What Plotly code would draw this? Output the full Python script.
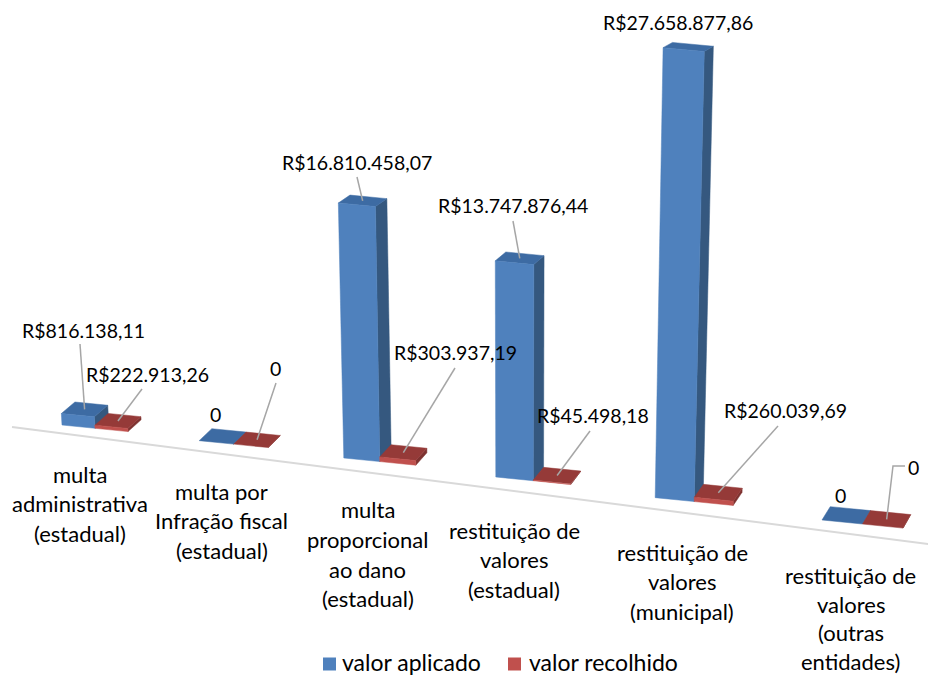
import plotly.graph_objects as go

# ---------------- data ----------------
categories = [
    ["multa", "administrativa", "(estadual)"],
    ["multa por", "Infração fiscal", "(estadual)"],
    ["multa", "proporcional", "ao dano", "(estadual)"],
    ["restituição de", "valores", "(estadual)"],
    ["restituição de", "valores", "(municipal)"],
    ["restituição de", "valores", "(outras", "entidades)"],
]
valor_aplicado = [816138.11, 0, 16810458.07, 13747876.44, 27658877.86, 0]
valor_recolhido = [222913.26, 0, 303937.19, 45498.18, 260039.69, 0]
series_names = ["valor aplicado", "valor recolhido"]

# ---------------- styles ----------------
FONT = "Lato"
COLORS = {
    0: dict(front="#4F81BD", top="#3D6BA3", side="#35587F"),
    1: dict(front="#C0504D", top="#953A38", side="#7E3230"),
}
SCREEN_W, SCREEN_H = 936, 677
BODY = 8  # default page margin of the html body
LABEL_NUDGE = [-3, 0, 0, -7, 0, 0]


def brl(v):
    if v == 0:
        return "0"
    s = f"{v:,.2f}".replace(",", "#").replace(".", ",").replace("#", ".")
    return "R$" + s


# ---------------- pseudo-3D projection (layout geometry) ----------------
def cat_base(i):
    x = 62 + 133.5 * i + 3.7 * i * i
    y = 425 + 14.83 * i + 0.833 * i * i
    w = 33 + 1.5 * i
    k = (14.07 + 0.55 * i) / 1e6  # px per unit value
    return x, y, w, k


def proj(i, s, u, h, d):
    x0, y0, w, k = cat_base(i)
    off = (s + u) * w
    bx = x0 + off
    by = y0 + 0.1 * off
    x = bx + (bx - 515) * h / 8000
    y = by - h
    if d:
        x += d * (14 - 0.007 * x)
        y += d * (-13 * (y + 255) / 755)
    return x, y


fig = go.Figure()


def poly(pts, color):
    xs = [p[0] for p in pts] + [pts[0][0]]
    ys = [p[1] for p in pts] + [pts[0][1]]
    fig.add_trace(go.Scatter(
        x=xs, y=ys, mode="lines", fill="toself", fillcolor=color,
        line=dict(color=color, width=0.5), hoverinfo="skip", showlegend=False,
    ))


# floor line
fig.add_trace(go.Scatter(x=[12, 936], y=[427, 545], mode="lines",
                         line=dict(color="#D9D9D9", width=2),
                         hoverinfo="skip", showlegend=False))

series = [valor_aplicado, valor_recolhido]
for i in range(len(categories)):
    for s, vals in enumerate(series):
        _, _, _, k = cat_base(i)
        h = vals[i] * k
        c = COLORS[s]
        poly([proj(i, s, 1, 0, 0), proj(i, s, 1, 0, 1), proj(i, s, 1, h, 1), proj(i, s, 1, h, 0)], c["side"])
        poly([proj(i, s, 0, h, 0), proj(i, s, 1, h, 0), proj(i, s, 1, h, 1), proj(i, s, 0, h, 1)], c["top"])
        if h > 0:
            poly([proj(i, s, 0, 0, 0), proj(i, s, 1, 0, 0), proj(i, s, 1, h, 0), proj(i, s, 0, h, 0)], c["front"])

# ---------------- legend (manual) ----------------
legend_items = [(329.5, 340), (514.5, 527)]  # square centre x, text start x
LEG_Y = 662
for s, (sq_x, tx) in enumerate(legend_items):
    fig.add_trace(go.Scatter(x=[sq_x], y=[LEG_Y + 2], mode="markers",
                             marker=dict(symbol="square", size=13, color=COLORS[s]["front"],
                                         line=dict(width=0)),
                             hoverinfo="skip", showlegend=False))
    fig.add_annotation(x=tx, y=LEG_Y, text=series_names[s], showarrow=False,
                       font=dict(family=FONT, size=23, color="#000000"),
                       xanchor="left", yanchor="middle")

# ---------------- data labels ----------------
label_pos = {
    (0, 0): (83, 330), (0, 1): (147, 374),
    (1, 0): (215, 414), (1, 1): (275, 368),
    (2, 0): (357, 162), (2, 1): (455, 352),
    (3, 0): (513, 205), (3, 1): (593, 415),
    (4, 0): (678, 22), (4, 1): (785, 410),
    (5, 0): (840, 495), (5, 1): (913, 467),
}
leader_start = {
    (0, 0): [(80, 344)], (0, 1): [(142, 389)],
    (1, 1): [(276, 383)],
    (2, 0): [(357, 177)], (2, 1): [(455, 368)],
    (3, 0): [(513, 221)], (3, 1): [(590, 431)],
    (4, 1): [(778, 426)],
    (5, 1): [(905, 466), (893, 466)],
}

for i in range(len(categories)):
    for s, vals in enumerate(series):
        _, _, _, k = cat_base(i)
        h = vals[i] * k
        if (i, s) in leader_start:
            ax, ay = proj(i, s, 0.5, h, 0.5)
            pts = leader_start[(i, s)] + [(ax, ay)]
            fig.add_trace(go.Scatter(x=[p[0] for p in pts], y=[p[1] for p in pts], mode="lines",
                                     line=dict(color="#A6A6A6", width=1.5),
                                     hoverinfo="skip", showlegend=False))
        lx, ly = label_pos[(i, s)]
        fig.add_annotation(x=lx, y=ly, text=brl(vals[i]), showarrow=False,
                           font=dict(family=FONT, size=19.5, color="#000000"),
                           xanchor="center", yanchor="middle")

# ---------------- category labels ----------------
for i, lines in enumerate(categories):
    x0, y0, w, _ = cat_base(i)
    cx = x0 + w - 12 + LABEL_NUDGE[i]
    cy = y0 + 49 + 1.4 * i
    step = 29.7
    last = cy + (len(lines) - 1) * step
    if last > 661:  # keep the last line inside the picture
        step = (661 - cy) / (len(lines) - 1)
    for j, line in enumerate(lines):
        fig.add_annotation(x=cx, y=cy + j * step, text=line, showarrow=False,
                           font=dict(family=FONT, size=22, color="#000000"),
                           xanchor="center", yanchor="middle")

fig.update_layout(
    width=SCREEN_W - BODY, height=SCREEN_H - BODY,
    margin=dict(l=0, r=0, t=0, b=0, pad=0),
    paper_bgcolor="white", plot_bgcolor="white",
    xaxis=dict(range=[BODY, SCREEN_W], visible=False, fixedrange=True),
    yaxis=dict(range=[SCREEN_H, BODY], visible=False, fixedrange=True),
    showlegend=False,
)

fig.write_html("out.html")
